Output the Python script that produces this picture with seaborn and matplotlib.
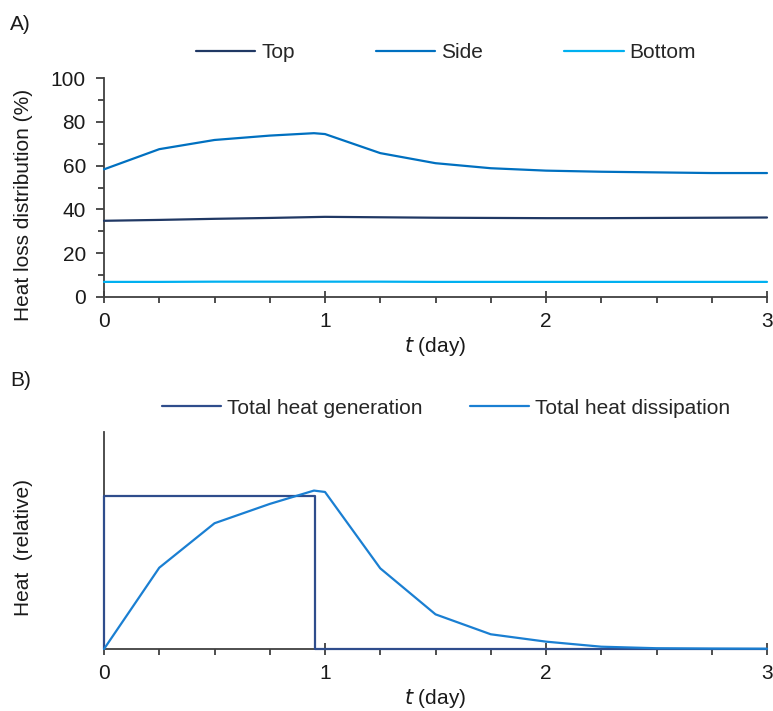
import numpy as np
import pandas as pd
import matplotlib
matplotlib.use("Agg")
import matplotlib.pyplot as plt
import seaborn as sns
from matplotlib.ticker import MultipleLocator, NullLocator

# Time axis (days)
t_days = [0, 0.25, 0.5, 0.75, 0.95, 1.0, 1.25, 1.5, 1.75, 2.0, 2.25, 2.5, 2.75, 3.0]

# Heat loss distribution (%) by surface
loss_top = [34.8, 35.2, 35.7, 36.1, 36.5, 36.6, 36.4, 36.2, 36.1, 36.0, 36.0, 36.1, 36.2, 36.3]
loss_side = [58.3, 67.5, 71.7, 73.7, 74.8, 74.4, 65.7, 61.1, 58.8, 57.7, 57.2, 56.9, 56.6, 56.6]
loss_bottom = [6.9, 6.9, 7.0, 7.0, 7.0, 7.0, 7.0, 6.9, 6.9, 6.9, 6.9, 6.9, 6.9, 6.9]

# Relative heat (generation is a rectangular pulse, dissipation follows t_days)
gen_t = [0, 0, 0.955, 0.955, 3.0]
gen_heat = [0, 1.0, 1.0, 0, 0]
diss_heat = [0, 0.53, 0.82, 0.946, 1.033, 1.024, 0.526, 0.226, 0.096, 0.048, 0.015, 0.005, 0.003, 0.002]

series_names = ["Top", "Side", "Bottom"]
series_colors = ["#203864", "#0070c0", "#00b0f0"]
gen_color = "#2f4d8c"
diss_color = "#1a7fd2"

FS = 15
LW = 1.6

sns.set_theme(style="ticks")
plt.rcParams["font.family"] = ["Liberation Sans", "DejaVu Sans"]
plt.rcParams["font.size"] = FS
plt.rcParams["axes.edgecolor"] = "#404040"
plt.rcParams["xtick.color"] = "#404040"
plt.rcParams["ytick.color"] = "#404040"
plt.rcParams["xtick.labelcolor"] = "#1a1a1a"
plt.rcParams["ytick.labelcolor"] = "#1a1a1a"

W, H = 773, 711
fig = plt.figure(figsize=(W / 100, H / 100), dpi=100)

def frac_box(x0, y_top, x1, y_bot):
    return [x0 / W, 1 - y_bot / H, (x1 - x0) / W, (y_bot - y_top) / H]

axA = fig.add_axes(frac_box(104, 78, 767, 297))
axB = fig.add_axes(frac_box(104, 432, 767, 649))

# Panel A: heat loss distribution
dfA = pd.DataFrame({
    "t": t_days * 3,
    "value": loss_top + loss_side + loss_bottom,
    "surface": [n for n in series_names for _ in t_days],
})
sns.lineplot(data=dfA, x="t", y="value", hue="surface", hue_order=series_names,
             palette=series_colors, linewidth=LW, ax=axA, legend=False)
axA.set_xlim(0, 3)
axA.set_ylim(0, 100)
axA.yaxis.set_major_locator(MultipleLocator(20))
axA.yaxis.set_minor_locator(MultipleLocator(10))
axA.set_ylabel("Heat loss distribution (%)", fontsize=FS, color="#1a1a1a")
axA.yaxis.set_label_coords(-0.107, 0.42)
axA.tick_params(axis="y", which="both", left=True)

# Panel B: relative heat generation and dissipation
dfGen = pd.DataFrame({"t": gen_t, "heat": gen_heat})
dfDiss = pd.DataFrame({"t": t_days, "heat": diss_heat})
sns.lineplot(data=dfGen, x="t", y="heat", color=gen_color, linewidth=LW,
             ax=axB, sort=False, estimator=None)
sns.lineplot(data=dfDiss, x="t", y="heat", color=diss_color, linewidth=LW,
             ax=axB, estimator=None)
axB.set_xlim(0, 3)
axB.set_ylim(0, 1.415)
axB.yaxis.set_major_locator(NullLocator())
axB.yaxis.set_minor_locator(NullLocator())
axB.set_ylabel("Heat  (relative)", fontsize=FS, color="#1a1a1a")
axB.yaxis.set_label_coords(-0.107, 0.47)

for ax in (axA, axB):
    for line in ax.lines:
        line.set_zorder(3)
        line.set_clip_on(False)
    for s in ("top", "right"):
        ax.spines[s].set_visible(False)
    for s in ("left", "bottom"):
        ax.spines[s].set_linewidth(1.3)
    ax.xaxis.set_major_locator(MultipleLocator(1))
    ax.xaxis.set_minor_locator(MultipleLocator(0.25))
    ax.tick_params(axis="x", which="both", bottom=True)
    ax.tick_params(axis="x", which="major", direction="inout", length=9, width=1.3,
                   pad=6, labelsize=FS)
    ax.tick_params(axis="x", which="minor", direction="out", length=4.5, width=1.3)
    ax.tick_params(axis="y", which="major", direction="out", length=6, width=1.3,
                   pad=7, labelsize=FS)
    ax.tick_params(axis="y", which="minor", direction="out", length=4, width=1.3)
    ax.set_xlabel("$\\mathit{t}$ (day)", fontsize=FS, color="#1a1a1a", labelpad=3)
    ax.patch.set_alpha(0)

# Legends
handlesA = [plt.Line2D([], [], color=c, linewidth=LW) for c in series_colors]
fig.legend(handlesA, series_names, loc="center", bbox_to_anchor=(446 / W, 1 - 53 / H),
           ncol=3, frameon=False, handlelength=2.85, handletextpad=0.28,
           columnspacing=3.9, fontsize=FS)
handlesB = [plt.Line2D([], [], color=gen_color, linewidth=LW),
            plt.Line2D([], [], color=diss_color, linewidth=LW)]
fig.legend(handlesB, ["Total heat generation", "Total heat dissipation"], loc="center",
           bbox_to_anchor=(446 / W, 1 - 408 / H), ncol=2, frameon=False,
           handlelength=2.85, handletextpad=0.28, columnspacing=2.25, fontsize=FS)

fig.text(10 / W, 1 - 24 / H, "A)", fontsize=FS, va="center", ha="left", color="#1a1a1a")
fig.text(10 / W, 1 - 381 / H, "B)", fontsize=FS, va="center", ha="left", color="#1a1a1a")

fig.savefig("out.png", dpi=100, facecolor="white")
